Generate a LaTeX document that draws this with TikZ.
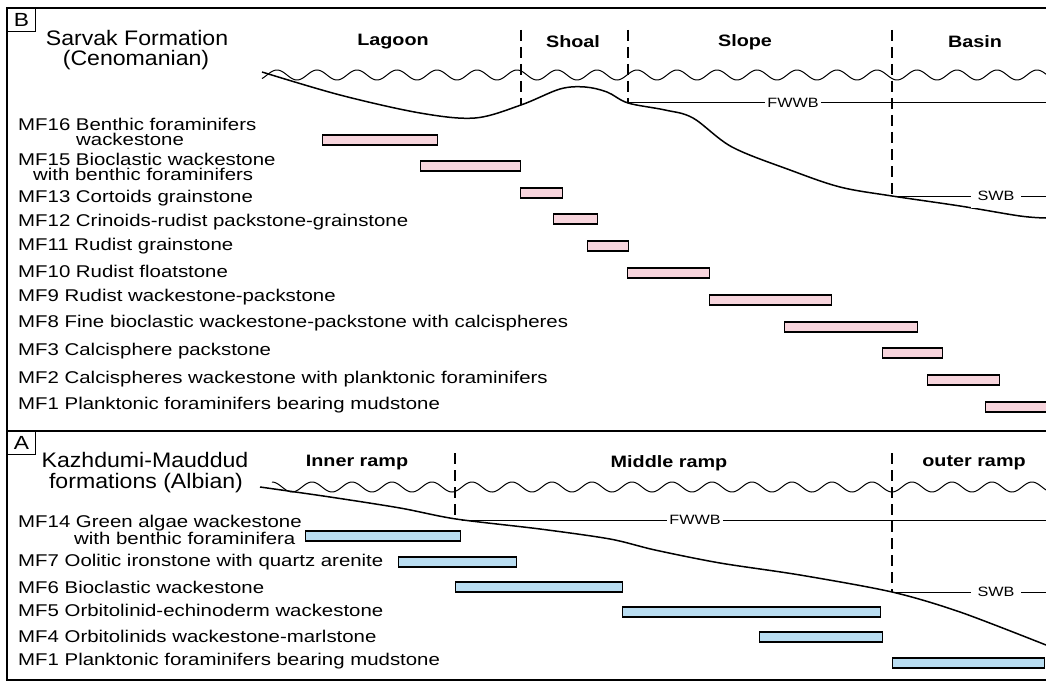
\documentclass[tikz,border=0pt]{standalone}
\usepackage{fontspec}
\setmainfont{Liberation Sans}[FakeStretch=1.2]
\newfontfamily\titlefont{Liberation Sans}[FakeStretch=1.1]
\definecolor{pinkfill}{HTML}{F7D4DC}
\definecolor{bluefill}{HTML}{B9DDF1}
\tikzset{
  frame/.style={line width=2.2pt},
  floorline/.style={line width=1.5pt},
  waveline/.style={line width=1pt},
  zonedash/.style={line width=1.2pt, dash pattern=on 11pt off 6pt},
  baseline/.style={line width=1pt},
  blabel/.style={fill=white, inner sep=2pt, font=\fontsize{13.5}{15}\selectfont},
  mf/.style={anchor=west, inner sep=0pt, align=left, font=\fontsize{17}{15.5}\selectfont},
  head/.style={inner sep=0pt, font=\fontsize{16.5}{18}\selectfont\bfseries},
  title/.style={inner sep=0pt, align=center, font=\titlefont\fontsize{21}{23}\selectfont},
  pinkbar/.style={draw, fill=pinkfill, line width=1.4pt, minimum height=10pt, inner sep=0pt, anchor=west},
  bluebar/.style={draw, fill=bluefill, line width=1.4pt, minimum height=10pt, inner sep=0pt, anchor=west},
  panel/.style={draw, line width=1pt, minimum width=28pt, minimum height=23pt, inner sep=0pt, anchor=north west, font=\fontsize{19}{20}\selectfont},
}
\begin{document}
\begin{tikzpicture}[x=1pt, y=-1pt]
\useasboundingbox (0,0) rectangle (1046,682);
% frame
\draw[frame] (1046,8) -- (7,8) -- (7,680) -- (1046,680);
\draw[frame] (7,431) -- (1046,431);
\node[panel] (pB) at (7,8) {B};
\node[panel] (pA) at (7,431) {A};

% ================= TOP PANEL (B) =================
\node[title] (tB1) at (137,38) {Sarvak Formation};
\node[title] (tB2) at (136,60) {(Cenomanian)};
\node[head] (hLag) at (393,42) {Lagoon};
\node[head] (hSho) at (573,42) {Shoal};
\node[head] (hSlo) at (745,42) {Slope};
\node[head] (hBas) at (975,42) {Basin};

\draw[waveline] plot[domain=262:1046, samples=500] (\x, {75-5*cos(9*(\x-357))});
\draw[floorline] plot[smooth, tension=0.55] coordinates {(262,72) (340,95) (420,113) (475,118) (521,105) (560,89) (585,87) (607,92) (628,103) (665,110) (693,118) (732,147) (790,170) (840,187) (892,196) (960,206) (1020,216) (1046,218)};

\coordinate (dA1) at (521,30); \coordinate (dA2) at (521,105);
\coordinate (dB1) at (628,30); \coordinate (dB2) at (628,103);
\coordinate (dC1) at (892,30); \coordinate (dC2) at (892,196);
\draw[zonedash] (dA1) -- (dA2);
\draw[zonedash] (dB1) -- (dB2);
\draw[zonedash] (dC1) -- (dC2);

\coordinate (fwR) at (1046,103);
\draw[baseline] (dB2) -- (fwR);
\node[blabel] (fwwbB) at (793,103) {FWWB};
\coordinate (swR) at (1046,196);
\draw[baseline] (dC2) -- (swR);
\node[blabel, inner sep=7pt] (swbB) at (996,196) {SWB};

% facies labels (top)
\node[mf] (m16) at (18,132) {MF16 Benthic foraminifers\\\hspace*{58pt}wackestone};
\node[mf] (m15) at (18,167) {MF15 Bioclastic wackestone\\\hspace*{15pt}with benthic foraminifers};
\node[mf] (m13) at (18,198) {MF13 Cortoids grainstone};
\node[mf] (m12) at (18,222) {MF12 Crinoids-rudist packstone-grainstone};
\node[mf] (m11) at (18,246) {MF11 Rudist grainstone};
\node[mf] (m10) at (18,271) {MF10 Rudist floatstone};
\node[mf] (m9) at (18,297) {MF9 Rudist wackestone-packstone};
\node[mf] (m8) at (18,323) {MF8 Fine bioclastic wackestone-packstone with calcispheres};
\node[mf] (m3) at (18,351) {MF3 Calcisphere packstone};
\node[mf] (m2) at (18,379) {MF2 Calcispheres wackestone with planktonic foraminifers};
\node[mf] (m1t) at (18,405) {MF1 Planktonic foraminifers bearing mudstone};

% pink bars
\node[pinkbar, minimum width=115pt] (b16) at (322,140) {};
\node[pinkbar, minimum width=100pt] (b15) at (420,166) {};
\node[pinkbar, minimum width=42pt] (b13) at (520,193) {};
\node[pinkbar, minimum width=44pt] (b12) at (553,219) {};
\node[pinkbar, minimum width=41pt] (b11) at (587,246) {};
\node[pinkbar, minimum width=82pt] (b10) at (627,273) {};
\node[pinkbar, minimum width=122pt] (b9) at (709,300) {};
\node[pinkbar, minimum width=133pt] (b8) at (784,327) {};
\node[pinkbar, minimum width=60pt] (b3) at (882,353) {};
\node[pinkbar, minimum width=72pt] (b2) at (927,380) {};
\node[pinkbar, minimum width=66pt] (b1t) at (985,407) {};

% ================= BOTTOM PANEL (A) =================
\node[title] (tA1) at (145,460) {Kazhdumi-Mauddud};
\node[title] (tA2) at (146,483) {formations (Albian)};
\node[head] (hInn) at (357,463) {Inner ramp};
\node[head] (hMid) at (669,463) {Middle ramp};
\node[head] (hOut) at (974,463) {outer ramp};

\draw[waveline] plot[domain=272:1046, samples=500] (\x, {487-5*cos(9*(\x-312))});
\draw[floorline] plot[smooth, tension=0.5] coordinates {(260,487) (330,497) (400,508) (456,519) (540,529) (610,539) (655,550) (720,563) (800,575) (892,592) (960,612) (1046,645)};

\coordinate (eA1) at (455,453); \coordinate (eA2) at (455,519);
\coordinate (eB1) at (892,453); \coordinate (eB2) at (892,592);
\draw[zonedash] (eA1) -- (eA2);
\draw[zonedash] (eB1) -- (eB2);

\coordinate (fwL2) at (462,520); \coordinate (fwR2) at (1046,520);
\draw[baseline] (fwL2) -- (fwR2);
\node[blabel] (fwwbA) at (695,520) {FWWB};
\coordinate (swR2) at (1046,592);
\draw[baseline] (eB2) -- (swR2);
\node[blabel, inner sep=7pt] (swbA) at (996,592) {SWB};

% facies labels (bottom)
\node[mf] (n14) at (18,530) {MF14 Green algae wackestone\\\hspace*{56pt}with benthic foraminifera};
\node[mf] (n7) at (18,562) {MF7 Oolitic ironstone with quartz arenite};
\node[mf] (n6) at (18,587) {MF6 Bioclastic wackestone};
\node[mf] (n5) at (18,610) {MF5 Orbitolinid-echinoderm wackestone};
\node[mf] (n4) at (18,636) {MF4 Orbitolinids wackestone-marlstone};
\node[mf] (n1) at (18,661) {MF1 Planktonic foraminifers bearing mudstone};

% blue bars
\node[bluebar, minimum width=155pt] (c14) at (305,536) {};
\node[bluebar, minimum width=118pt] (c7) at (398,562) {};
\node[bluebar, minimum width=167pt] (c6) at (455,587) {};
\node[bluebar, minimum width=258pt] (c5) at (622,612) {};
\node[bluebar, minimum width=123pt] (c4) at (759,637) {};
\node[bluebar, minimum width=152pt] (c1) at (892,663) {};
\end{tikzpicture}
\end{document}
